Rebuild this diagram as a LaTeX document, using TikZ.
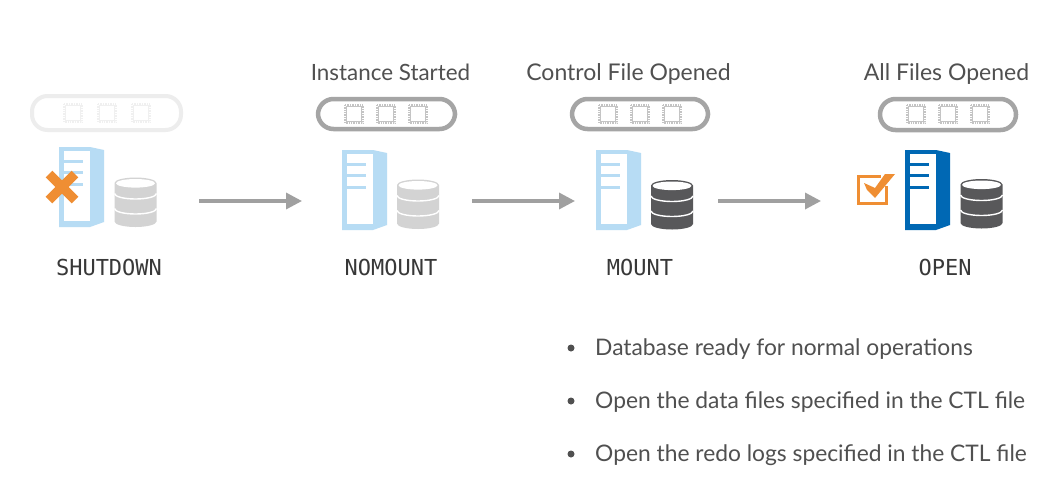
\documentclass[tikz,border=0pt]{standalone}
\usepackage{fontspec}
\setmainfont{Lato}
\newfontfamily\monof{DejaVu Sans Mono}
\definecolor{pillD}{HTML}{A5A5A5}
\definecolor{pillL}{HTML}{EDEDED}
\definecolor{chipD}{HTML}{C4C4C4}
\definecolor{chipL}{HTML}{F0F0F0}
\definecolor{dbL}{HTML}{D3D3D3}
\definecolor{dbD}{HTML}{58585A}
\definecolor{srvL}{HTML}{B7DCF4}
\definecolor{srvD}{HTML}{0068B4}
\definecolor{orng}{HTML}{EF8E33}
\definecolor{arrowc}{HTML}{A0A0A0}
\definecolor{txt}{HTML}{505050}
\definecolor{mono}{HTML}{383838}
\newcommand\chipicon[3]{%
  \draw[#3,line width=2.2pt,dash pattern=on 0.8pt off 0.9pt] (#1-9,#2-9) rectangle (#1+9,#2+9);
  \draw[#3,line width=1.6pt,fill=white] (#1-7.5,#2-7.5) rectangle (#1+7.5,#2+7.5);}
\newcommand\cpubar[6]{%
  \draw[#5,line width=#6,rounded corners=15.5pt,fill=white] (#1,#2) rectangle (#3,#4);}
\newcommand\servericon[3]{%
  \begin{scope}[shift={(#1,#2)}]
    \fill[#3] (0,0) -- (31,0) -- (45,3) -- (45,75) -- (31,80) -- (0,80) -- cycle;
    \fill[white] (5,4) rectangle (31,74);
    \fill[#3] (5,12.5) rectangle (24,15.5);
    \fill[#3] (5,23.5) rectangle (24,26.5);
    \fill[#3] (5,35.5) rectangle (24,38.5);
  \end{scope}}
\newcommand\dbicon[3]{%
  \begin{scope}[shift={(#1,#2)}]
    \fill[#3] (0,5.5) arc[start angle=180,end angle=360,x radius=21,y radius=5.5]
      -- (42,44) arc[start angle=0,end angle=180,x radius=21,y radius=5.5] -- cycle;
    \fill[white] (21,5.8) ellipse[x radius=19.5,y radius=4.3];
    \draw[white,line width=1.4pt] (0,16) arc[start angle=180,end angle=0,x radius=21,y radius=5.5];
    \draw[white,line width=1.4pt] (0,31) arc[start angle=180,end angle=0,x radius=21,y radius=5.5];
  \end{scope}}
\usetikzlibrary{arrows.meta}
\tikzset{
  flow/.style={arrowc,line width=3.4pt,-{Triangle[length=16pt,width=16pt]}},
  toplabel/.style={anchor=base,inner sep=0pt,text=txt,font=\fontsize{22.4}{26}\selectfont},
  toplabelwide/.style={anchor=base,inner sep=0pt,text=txt,font=\fontsize{23}{26}\selectfont},
  statelabel/.style={anchor=base,inner sep=0pt,text=mono,font=\monof\fontsize{22}{24}\selectfont},
  bullettext/.style={anchor=base west,inner sep=0pt,text=txt,font=\fontsize{22.8}{26}\selectfont},
  bulletdot/.style={circle,fill=txt,inner sep=0pt,minimum size=7pt}
}
\begin{document}
\begin{tikzpicture}[x=1pt,y=-1pt]
\useasboundingbox (0,0) rectangle (1051,496);
\fill[white] (0,0) rectangle (1051,496);
% CPU bars
\cpubar{32}{96}{181}{130}{pillL}{4pt}
\cpubar{318}{99}{455}{129}{pillD}{4.5pt}
\cpubar{572}{99}{708}{129}{pillD}{4.5pt}
\cpubar{880}{99}{1016}{130}{pillD}{4.5pt}
\chipicon{73}{113}{chipL}\chipicon{107}{113}{chipL}\chipicon{141}{113}{chipL}
\chipicon{354}{114}{chipD}\chipicon{386}{114}{chipD}\chipicon{418}{114}{chipD}
\chipicon{608}{114}{chipD}\chipicon{640}{114}{chipD}\chipicon{672}{114}{chipD}
\chipicon{916}{114}{chipD}\chipicon{948}{114}{chipD}\chipicon{980}{114}{chipD}
% servers and databases
\servericon{59}{147}{srvL}
\dbicon{114.5}{177.5}{dbL}
\servericon{342}{150}{srvL}
\dbicon{397}{179.5}{dbL}
\servericon{596}{150}{srvL}
\dbicon{651}{180}{dbD}
\servericon{905}{150}{srvD}
\dbicon{960.5}{179}{dbD}
% cross
\draw[orng,line width=9.5pt] (49,174) -- (75,200);
\draw[orng,line width=9.5pt] (75,174) -- (49,200);
% check box
\draw[orng,line width=3.5pt] (886.5,186) -- (886.5,203.5) -- (858.5,203.5) -- (858.5,176.5) -- (881,176.5);
\fill[orng] (864,183) -- (875,188) -- (885,174) -- (895,174) -- (875,198) -- (867,190) -- cycle;
% state labels
\node[statelabel] (sShut) at (109,275) {SHUTDOWN};
\node[statelabel] (sNom) at (391,275) {NOMOUNT};
\node[statelabel] (sMount) at (640,275) {MOUNT};
\node[statelabel] (sOpen) at (945,275) {OPEN};
% top labels
\node[toplabel] (tInst) at (390.5,80) {Instance Started};
\node[toplabelwide] (tCtl) at (628.5,80) {Control File Opened};
\node[toplabelwide] (tAll) at (946.5,80) {All Files Opened};
% arrows
\coordinate (a1) at (199,201); \coordinate (a2) at (302,201);
\coordinate (b1) at (472,201); \coordinate (b2) at (575,201);
\coordinate (c1) at (718,201); \coordinate (c2) at (821,201);
\draw[flow] (a1) -- (a2);
\draw[flow] (b1) -- (b2);
\draw[flow] (c1) -- (c2);
% bullets
\node[bulletdot] (d1) at (571,348) {};
\node[bulletdot] (d2) at (571,401) {};
\node[bulletdot] (d3) at (571,454) {};
\node[bullettext] (l1) at (595,355) {Database ready for normal operations};
\node[bullettext] (l2) at (595,408) {Open the data files specified in the CTL file};
\node[bullettext] (l3) at (595,461) {Open the redo logs specified in the CTL file};
\end{tikzpicture}
\end{document}
